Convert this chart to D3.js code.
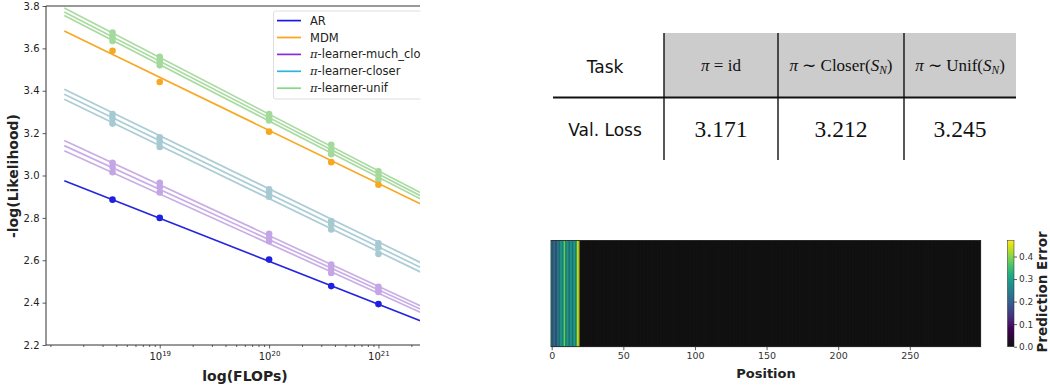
<!DOCTYPE html>
<html>
<head>
<meta charset="utf-8">
<script src="https://cdn.jsdelivr.net/npm/d3@7"></script>
<style>
  body { margin: 0; background: #fff; }
  svg { display: block; font-family: "DejaVu Sans", sans-serif; }
</style>
</head>
<body>
<svg width="1050" height="386"></svg>
<script>
// ---------- data: scaling plot ----------
const flops = [3.7e18, 1e19, 1e20, 3.7e20, 1e21];
const fitRange = [1.34e18, 2.41e21];

const arPoints = [2.886, 2.800, 2.603, 2.478, 2.393];
const arFit = [2.975, 2.315];
const mdmPoints = [3.589, 3.441, 3.207, 3.063, 2.956];
const mdmFit = [3.682, 2.867];

const unifPoints = [
  [3.675, 3.560, 3.290, 3.145, 3.020],
  [3.655, 3.540, 3.275, 3.120, 3.000],
  [3.635, 3.520, 3.260, 3.100, 2.980]
];
const unifFits = [[3.790, 2.920], [3.772, 2.905], [3.755, 2.890]];

const closerPoints = [
  [3.290, 3.180, 2.935, 2.785, 2.680],
  [3.270, 3.160, 2.920, 2.770, 2.660],
  [3.245, 3.135, 2.900, 2.745, 2.630]
];
const closerFits = [[3.407, 2.590], [3.383, 2.567], [3.360, 2.545]];

const muchCloserPoints = [
  [3.060, 2.965, 2.725, 2.580, 2.475],
  [3.040, 2.945, 2.705, 2.560, 2.460],
  [3.015, 2.920, 2.690, 2.540, 2.450]
];
const muchCloserFits = [[3.165, 2.385], [3.141, 2.370], [3.117, 2.355]];

const legendLabels = ['AR', 'MDM', 'π-learner-much_closer', 'π-learner-closer', 'π-learner-unif'];
const legendColors = ['#1a1ae6', '#ffa21a', '#8a2be2', '#2cb5e0', '#86d886'];
const yTicks = [2.2, 2.4, 2.6, 2.8, 3.0, 3.2, 3.4, 3.6, 3.8];
const xMajorTicks = [1e19, 1e20, 1e21];

// ---------- data: table ----------
const tableHeader = ['Task', 'π = id', 'π ∼ Closer(S_N)', 'π ∼ Unif(S_N)'];
const tableRowLabel = 'Val. Loss';
const tableValues = ['3.171', '3.212', '3.245'];

// ---------- data: prediction error heatmap ----------
const errorHead = [0.27, 0.21, 0.21, 0.20, 0.22, 0.26, 0.27, 0.28, 0.32, 0.38,
                   0.31, 0.28, 0.28, 0.27, 0.28, 0.28, 0.29, 0.31, 0.43, 0.445];
const errorTail = [
  0,0,0,0,0,0,0,0,0,0,0,0,0,0,0,0,0,0,0,0,0,0,0,0,0,0,0,0,0,0,0,0,0,0,0,0,0,0,0,0,
  0,0,0,0,0,0,0,0,0,0,0,0,0,0,0,0,0,0,0,0,0,0,0,0,0,0,0,0,0,0,0,0,0,0,0,0,0,0,0,0,
  0,0,0,0,0,0,0,0,0,0,0,0,0,0,0,0,0,0,0,0,0,0,0,0,0,0,0,0,0,0,0,0,0,0,0,0,0,0,0,0,
  0,0,0,0,0,0,0,0,0,0,0,0,0,0,0,0,0,0,0,0,0,0,0,0,0,0,0,0,0,0,0,0,0,0,0,0,0,0,0,0,
  0,0,0,0,0,0,0,0,0,0,0,0,0,0,0,0,0,0,0,0,0,0,0,0,0,0,0,0,0,0,0,0,0,0,0,0,0,0,0,0,
  0,0,0,0,0,0,0,0,0,0,0,0,0,0,0,0,0,0,0,0,0,0,0,0,0,0,0,0,0,0,0,0,0,0,0,0,0,0,0,0,
  0,0,0,0,0,0,0,0,0,0,0,0,0,0,0,0,0,0,0,0,0,0,0,0,0,0,0,0,0,0,0,0,0,0,0,0,0,0,0,0
];
const errorValues = errorHead.concat(errorTail);
const posTicks = [0, 50, 100, 150, 200, 250];
const cbarTicks = [0.0, 0.1, 0.2, 0.3, 0.4];
const errorMax = 0.47;

const svg = d3.select('svg');
const textCol = '#222';

// =============== left: scaling plot ===============
const xScale = d3.scaleLog()
  .domain([Math.pow(10, 17.96), Math.pow(10, 21.38)])
  .range([46, 420]);
const yScale = d3.scaleLinear().domain([2.2, 3.8]).range([345, 6]);

svg.append('defs').append('clipPath').attr('id', 'plotclip')
  .append('rect').attr('x', 46).attr('y', 6).attr('width', 374).attr('height', 339);

const plot = svg.append('g').attr('clip-path', 'url(#plotclip)');

function drawGroup(fits, points, lineCol, dotCol, width) {
  fits.forEach((f, i) => {
    plot.append('line')
      .attr('x1', xScale(fitRange[0])).attr('x2', xScale(fitRange[1]))
      .attr('y1', yScale(f[0])).attr('y2', yScale(f[1]))
      .attr('stroke', lineCol).attr('stroke-width', width);
    plot.selectAll(null).data(points[i]).enter().append('circle')
      .attr('cx', (d, j) => xScale(flops[j]))
      .attr('cy', d => yScale(d))
      .attr('r', 3.3)
      .attr('fill', dotCol);
  });
}

drawGroup(muchCloserFits, muchCloserPoints, '#c9aee6', '#c4a6e6', 1.7);
drawGroup(closerFits, closerPoints, '#abcdd5', '#a6c9d2', 1.7);
drawGroup(unifFits, unifPoints, '#a9dba1', '#a4d99c', 1.7);
drawGroup([mdmFit], [mdmPoints], '#f7a823', '#f7a823', 1.6);
drawGroup([arFit], [arPoints], '#2525dd', '#2020e0', 1.6);

// axes
const yAxis = svg.append('g').attr('transform', 'translate(46,0)')
  .call(d3.axisLeft(yScale).tickValues(yTicks).tickFormat(d3.format('.1f')).tickSize(3.5).tickPadding(3));
const minorTicks = xScale.ticks().filter(t => xMajorTicks.indexOf(t) < 0);
svg.append('g').attr('transform', 'translate(0,345)')
  .call(d3.axisBottom(xScale).tickValues(minorTicks).tickFormat('').tickSize(2));
const xAxis = svg.append('g').attr('transform', 'translate(0,345)')
  .call(d3.axisBottom(xScale).tickValues(xMajorTicks).tickSize(3.5).tickPadding(4));
xAxis.selectAll('text').each(function(d) {
  const t = d3.select(this).text('');
  t.append('tspan').text('10');
  t.append('tspan').attr('dy', -4).attr('font-size', 7).text(Math.round(Math.log10(d)));
});
[yAxis, xAxis].forEach(a => {
  a.selectAll('text').attr('font-size', 10).attr('fill', textCol).attr('font-family', 'DejaVu Sans');
});
svg.selectAll('.domain').remove();
svg.selectAll('.tick line').attr('stroke', '#333').attr('stroke-width', 0.8);

// frame (right side is cut off)
svg.append('path').attr('d', 'M420,6H46V345H420')
  .attr('fill', 'none').attr('stroke', '#333').attr('stroke-width', 1);

svg.append('text').attr('x', 245).attr('y', 381).attr('text-anchor', 'middle')
  .attr('font-size', 14).attr('font-weight', 'bold').attr('fill', textCol).text('log(FLOPs)');
svg.append('text').attr('transform', 'translate(18,176) rotate(-90)').attr('text-anchor', 'middle')
  .attr('font-size', 14).attr('font-weight', 'bold').attr('fill', textCol).text('-log(Likelihood)');

// legend
const legend = svg.append('g');
legend.append('rect').attr('x', 273.5).attr('y', 11).attr('width', 160).attr('height', 88)
  .attr('rx', 2).attr('fill', '#fff').attr('fill-opacity', 0.85).attr('stroke', '#d6d6d6').attr('stroke-width', 0.8);
legendLabels.forEach((lab, i) => {
  const y = 20.6 + i * 16.9;
  legend.append('line').attr('x1', 277).attr('x2', 301).attr('y1', y).attr('y2', y)
    .attr('stroke', legendColors[i]).attr('stroke-width', 1.7);
  const t = legend.append('text').attr('x', 310).attr('y', y + 4).attr('font-size', 11.5).attr('fill', textCol);
  if (lab.startsWith('π')) {
    t.append('tspan').attr('font-style', 'italic').attr('font-family', 'DejaVu Serif').text('π');
    t.append('tspan').text(lab.slice(1));
  } else {
    t.text(lab);
  }
});
// white gap right of the cropped plot
svg.append('rect').attr('x', 420.5).attr('y', 0).attr('width', 120).attr('height', 386).attr('fill', '#fff');

// =============== top right: table ===============
const tbl = svg.append('g');
const colX = [605, 721, 841, 960];
tbl.append('rect').attr('x', 664).attr('y', 33).attr('width', 352).attr('height', 64).attr('fill', '#cccccc');
[664, 778, 904].forEach(x => {
  tbl.append('line').attr('x1', x).attr('x2', x).attr('y1', 33).attr('y2', 160)
    .attr('stroke', '#111').attr('stroke-width', 1.4);
});
tbl.append('line').attr('x1', 553).attr('x2', 1016).attr('y1', 97.5).attr('y2', 97.5)
  .attr('stroke', '#111').attr('stroke-width', 2);

tbl.append('text').attr('x', colX[0]).attr('y', 73).attr('text-anchor', 'middle')
  .attr('font-size', 17).attr('fill', '#111').text(tableHeader[0]);
tbl.append('text').attr('x', colX[0]).attr('y', 136).attr('text-anchor', 'middle')
  .attr('font-size', 17).attr('fill', '#111').text(tableRowLabel);

// math-style header cells
tableHeader.slice(1).forEach((h, i) => {
  const t = tbl.append('text').attr('x', colX[i + 1]).attr('y', 71).attr('text-anchor', 'middle')
    .attr('font-family', 'Liberation Serif').attr('font-size', 17).attr('fill', '#111');
  const m = h.match(/^π (\S) (\w+)(\(S_N\))?$/);
  t.append('tspan').attr('font-style', 'italic').text('π');
  t.append('tspan').text(' ' + m[1] + ' ' + m[2]);
  if (m[3]) {
    t.append('tspan').text('(');
    t.append('tspan').attr('font-style', 'italic').text('S');
    t.append('tspan').attr('font-style', 'italic').attr('font-size', 11.5).attr('dy', 3).text('N');
    t.append('tspan').attr('dy', -3).text(')');
  }
});
tableValues.forEach((v, i) => {
  tbl.append('text').attr('x', colX[i + 1]).attr('y', 137).attr('text-anchor', 'middle')
    .attr('font-family', 'Liberation Serif').attr('font-size', 23.5).attr('fill', '#111').text(v);
});

// =============== bottom right: heatmap ===============
const hx = d3.scaleLinear().domain([-0.5, errorValues.length - 0.5]).range([551, 980.7]);
const hTop = 240.5, hBot = 346.7;

function errColor(v) {
  if (v < 0.08) return d3.interpolateRgb('#111111', d3.interpolateViridis(0))(v / 0.08);
  return d3.interpolateViridis((v - 0.08) / (errorMax - 0.08));
}

const hm = svg.append('g');
hm.append('rect').attr('x', hx(-0.5)).attr('y', hTop).attr('width', hx(errorValues.length - 0.5) - hx(-0.5))
  .attr('height', hBot - hTop).attr('fill', errColor(0));
hm.selectAll('rect.cell').data(errorValues).enter().append('rect')
  .attr('class', 'cell')
  .attr('x', (d, i) => hx(i - 0.5))
  .attr('width', (d, i) => hx(i + 0.5) - hx(i - 0.5))
  .attr('y', hTop).attr('height', hBot - hTop)
  .attr('fill', d => errColor(d));
hm.append('rect').attr('x', hx(-0.5)).attr('y', hTop).attr('width', hx(errorValues.length - 0.5) - hx(-0.5))
  .attr('height', hBot - hTop).attr('fill', 'none').attr('stroke', '#222').attr('stroke-width', 0.8);

const hAxis = svg.append('g').attr('transform', `translate(0,${hBot})`)
  .call(d3.axisBottom(hx).tickValues(posTicks).tickSize(3.5).tickPadding(2));
hAxis.select('.domain').remove();
hAxis.selectAll('.tick line').attr('stroke', '#333').attr('stroke-width', 0.8);
hAxis.selectAll('text').attr('font-size', 9.5).attr('fill', '#333').attr('font-family', 'DejaVu Sans');

svg.append('text').attr('x', 766).attr('y', 378).attr('text-anchor', 'middle')
  .attr('font-size', 13).attr('font-weight', 'bold').attr('fill', textCol).text('Position');

// colorbar
const cScale = d3.scaleLinear().domain([0, errorMax]).range([hBot, 240.7]);
const grad = svg.select('defs').append('linearGradient').attr('id', 'cbar')
  .attr('x1', 0).attr('y1', 1).attr('x2', 0).attr('y2', 0);
d3.range(0, 41).forEach(k => {
  const v = errorMax * k / 40;
  grad.append('stop').attr('offset', k / 40).attr('stop-color', errColor(v));
});
svg.append('rect').attr('x', 1007.5).attr('y', cScale(errorMax)).attr('width', 6.5)
  .attr('height', hBot - cScale(errorMax)).attr('fill', 'url(#cbar)')
  .attr('stroke', '#222').attr('stroke-width', 0.5);
const cAxis = svg.append('g').attr('transform', 'translate(1014,0)')
  .call(d3.axisRight(cScale).tickValues(cbarTicks).tickFormat(d3.format('.1f')).tickSize(3).tickPadding(2));
cAxis.select('.domain').remove();
cAxis.selectAll('.tick line').attr('stroke', '#333').attr('stroke-width', 0.8);
cAxis.selectAll('text').attr('font-size', 9).attr('fill', '#333').attr('font-family', 'DejaVu Sans');

svg.append('text').attr('transform', 'translate(1047,292) rotate(-90)').attr('text-anchor', 'middle')
  .attr('font-size', 13.5).attr('font-weight', 'bold').attr('fill', textCol).text('Prediction Error');
</script>
</body>
</html>
